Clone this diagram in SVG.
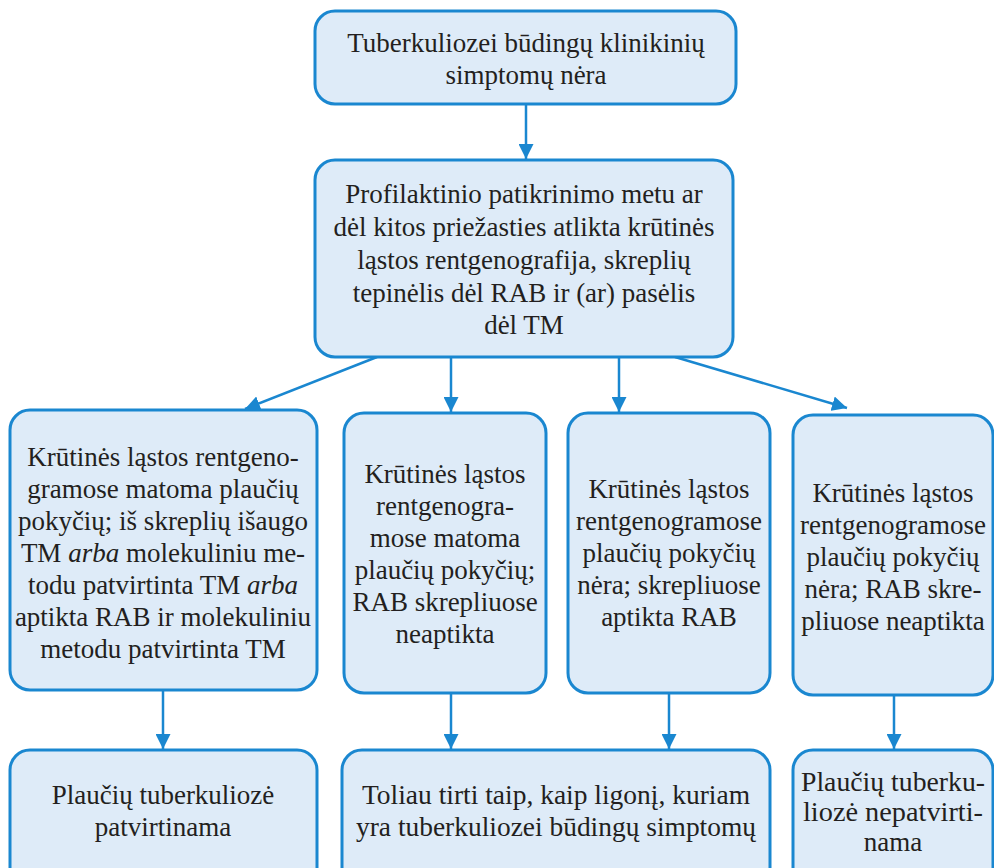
<svg xmlns="http://www.w3.org/2000/svg" width="994" height="868" viewBox="0 0 994 868">
<style>
.box{fill:#deebf8;stroke:#1a87d0;stroke-width:3}
.t{font-family:'Liberation Serif',serif;font-size:27px;fill:#231f20;text-anchor:middle}
.i{font-style:italic}
</style>
<defs>
<marker id="ah" viewBox="0 0 10 10" refX="10" refY="5" markerWidth="6" markerHeight="6" markerUnits="strokeWidth" orient="auto">
<path d="M0,0 L10,5 L0,10 z" fill="#1a87d0"/>
</marker>
</defs>
<rect width="994" height="868" fill="#ffffff"/>
<g id="connectors" stroke="#1a87d0" stroke-width="2.5" fill="none" marker-end="url(#ah)">
<line x1="526" y1="104" x2="526" y2="159"/>
<line x1="377" y1="357" x2="245" y2="409"/>
<line x1="451" y1="357" x2="451" y2="412"/>
<line x1="619" y1="357" x2="619" y2="412"/>
<line x1="675" y1="357" x2="847" y2="408"/>
<line x1="163" y1="690" x2="163" y2="749"/>
<line x1="451" y1="693" x2="451" y2="749"/>
<line x1="669" y1="693" x2="669" y2="749"/>
<line x1="894" y1="695" x2="894" y2="749"/>
</g>
<g id="n1">
<rect class="box" x="315" y="11" width="421" height="93" rx="20"/>
<text class="t" x="526" y="52">Tuberkuliozei būdingų klinikinių</text>
<text class="t" x="526" y="84">simptomų nėra</text>
</g>
<g id="n2">
<rect class="box" x="315" y="160" width="418" height="197" rx="20"/>
<text class="t" x="524" y="203">Profilaktinio patikrinimo metu ar</text>
<text class="t" x="524" y="236">dėl kitos priežasties atlikta krūtinės</text>
<text class="t" x="524" y="269">ląstos rentgenografija, skreplių</text>
<text class="t" x="524" y="302">tepinėlis dėl RAB ir (ar) pasėlis</text>
<text class="t" x="524" y="334">dėl TM</text>
</g>
<g id="n3">
<rect class="box" x="10" y="410" width="307" height="280" rx="20"/>
<text class="t" x="163" y="466">Krūtinės ląstos rentgeno-</text>
<text class="t" x="163" y="498">gramose matoma plaučių</text>
<text class="t" x="163" y="530">pokyčių; iš skreplių išaugo</text>
<text class="t" x="163" y="562">TM <tspan class="i">arba</tspan> molekuliniu me-</text>
<text class="t" x="163" y="594">todu patvirtinta TM <tspan class="i">arba</tspan></text>
<text class="t" x="163" y="626">aptikta RAB ir molekuliniu</text>
<text class="t" x="163" y="658">metodu patvirtinta TM</text>
</g>
<g id="n4">
<rect class="box" x="344" y="413" width="202" height="280" rx="20"/>
<text class="t" x="445" y="483">Krūtinės ląstos</text>
<text class="t" x="445" y="515">rentgenogra-</text>
<text class="t" x="445" y="547">mose matoma</text>
<text class="t" x="445" y="579">plaučių pokyčių;</text>
<text class="t" x="445" y="611">RAB skrepliuose</text>
<text class="t" x="445" y="643">neaptikta</text>
</g>
<g id="n5">
<rect class="box" x="568" y="413" width="202" height="280" rx="20"/>
<text class="t" x="669" y="498">Krūtinės ląstos</text>
<text class="t" x="669" y="530">rentgenogramose</text>
<text class="t" x="669" y="562">plaučių pokyčių</text>
<text class="t" x="669" y="594">nėra; skrepliuose</text>
<text class="t" x="669" y="626">aptikta RAB</text>
</g>
<g id="n6">
<rect class="box" x="793" y="415" width="200" height="280" rx="20"/>
<text class="t" x="893" y="502">Krūtinės ląstos</text>
<text class="t" x="893" y="534">rentgenogramose</text>
<text class="t" x="893" y="566">plaučių pokyčių</text>
<text class="t" x="893" y="598">nėra; RAB skre-</text>
<text class="t" x="893" y="630">pliuose neaptikta</text>
</g>
<g id="n7">
<rect class="box" x="10" y="750" width="307" height="140" rx="20"/>
<text class="t" x="163" y="804">Plaučių tuberkuliozė</text>
<text class="t" x="163" y="836">patvirtinama</text>
</g>
<g id="n8">
<rect class="box" x="342" y="750" width="428" height="140" rx="20"/>
<text class="t" x="556" y="804" textLength="388" lengthAdjust="spacingAndGlyphs">Toliau tirti taip, kaip ligonį, kuriam</text>
<text class="t" x="556" y="836" textLength="400" lengthAdjust="spacingAndGlyphs">yra tuberkuliozei būdingų simptomų</text>
</g>
<g id="n9">
<rect class="box" x="793" y="750" width="200" height="140" rx="20"/>
<text class="t" x="893" y="791" textLength="184" lengthAdjust="spacingAndGlyphs">Plaučių tuberku-</text>
<text class="t" x="893" y="821" textLength="180" lengthAdjust="spacingAndGlyphs">liozė nepatvirti-</text>
<text class="t" x="893" y="851">nama</text>
</g>
</svg>
